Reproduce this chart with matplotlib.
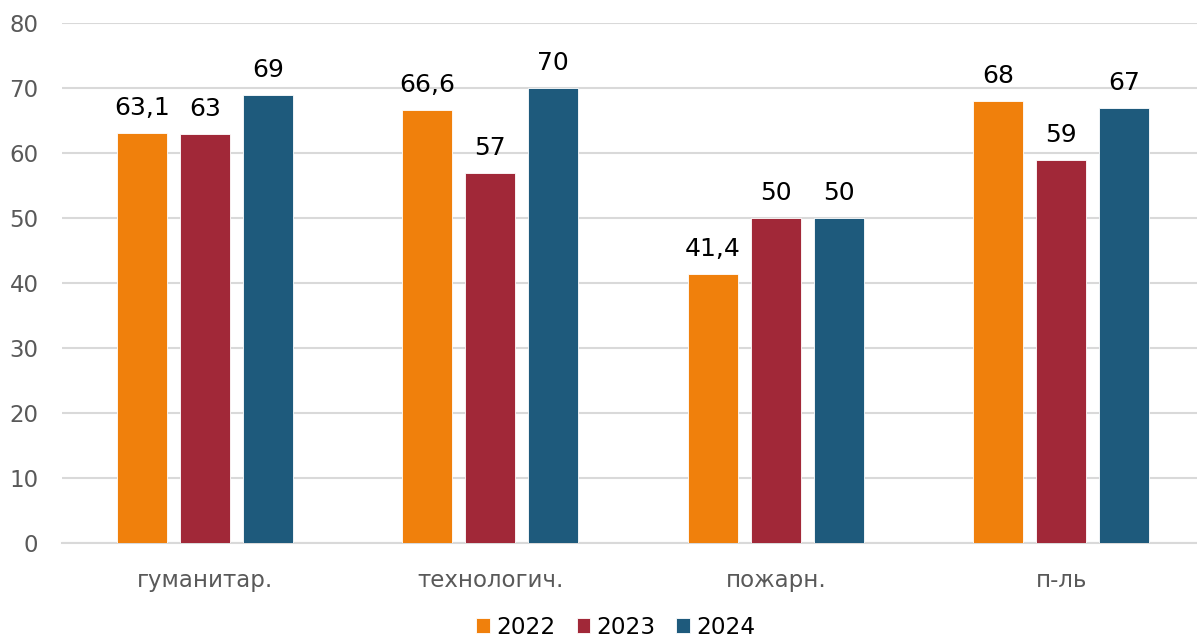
import matplotlib
matplotlib.use("Agg")
import matplotlib.pyplot as plt
import numpy as np

categories = ["гуманитар.", "технологич.", "пожарн.", "п-ль"]
years = ["2022", "2023", "2024"]
v2022 = [63.1, 66.6, 41.4, 68]
v2023 = [63, 57, 50, 59]
v2024 = [69, 70, 50, 67]
labels2022 = ["63,1", "66,6", "41,4", "68"]
labels2023 = ["63", "57", "50", "59"]
labels2024 = ["69", "70", "50", "67"]
colors = ["#F0800C", "#A12838", "#1E5A7C"]

plt.rcParams['font.family'] = ['DejaVu Sans']
fig = plt.figure(figsize=(11.97, 6.39), dpi=100)
ax = fig.add_axes([62/1197, 1-543/639, 1-62/1197, (543-23)/639])

x = np.arange(len(categories))
step = 0.2207
width = 0.175
series = [v2022, v2023, v2024]
labs = [labels2022, labels2023, labels2024]
for i, (vals, lab, c, y) in enumerate(zip(series, labs, colors, years)):
    bars = ax.bar(x + (i-1)*step, vals, width, color=c, edgecolor="white", linewidth=0.6, label=y, zorder=3)
    for b, t in zip(bars, lab):
        ax.text(b.get_x()+b.get_width()/2, b.get_height()+2.75, t, ha="center", va="baseline",
                fontsize=18, color="black", zorder=4)

ax.set_ylim(0, 80)
ax.set_xlim(-0.5, 3.5 - 7/285.5)
ax.set_yticks(range(0, 81, 10))
ax.yaxis.grid(True, color="#D9D9D9", linewidth=1.5, zorder=0)
ax.set_axisbelow(True)
for s in ["top", "right", "left"]:
    ax.spines[s].set_visible(False)
ax.spines["bottom"].set_color("#D9D9D9")
ax.spines["bottom"].set_linewidth(1.5)
ax.set_xticks(x)
ax.set_xticklabels(categories)
ax.tick_params(axis="x", length=0, labelsize=16.5, colors="#595959", pad=19)
ax.tick_params(axis="y", length=0, labelsize=16.5, colors="#595959", pad=17)

handles, lbls = ax.get_legend_handles_labels()
fig.legend(handles, lbls, loc="center", bbox_to_anchor=(616/1197, 1-627/639), ncol=3, frameon=False,
           fontsize=16.7, handlelength=0.6, handleheight=0.6, handletextpad=0.26, columnspacing=0.9,
           borderpad=0)

fig.savefig("out.png", dpi=100)
